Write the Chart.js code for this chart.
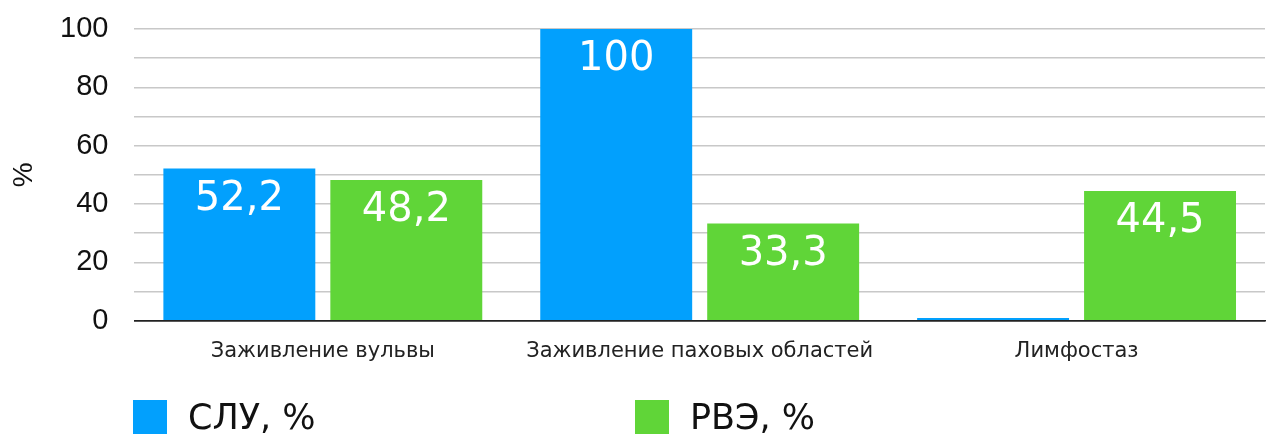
<!DOCTYPE html>
<html>
<head>
<meta charset="utf-8">
<script src="https://cdn.jsdelivr.net/npm/chart.js@4/dist/chart.umd.min.js"></script>
<style>
  html, body { margin: 0; padding: 0; background: #fff; }
  #wrap { position: relative; width: 1268px; height: 435px; }
  #legend { position: absolute; top: 400px; left: 0; width: 1268px; height: 34px;
            font-family: "DejaVu Sans", sans-serif; font-size: 35px; color: #111; }
  .item { position: absolute; top: 0; height: 34px; display: flex; align-items: center; }
  .box { width: 34px; height: 34px; margin-right: 21px; }
</style>
</head>
<body>
<div id="wrap">
  <canvas id="myChart" width="1268" height="435"></canvas>
  <div id="legend"></div>
</div>
<script>
// data
const categories = ["Заживление вульвы", "Заживление паховых областей", "Лимфостаз"];
const sluValues = [52.2, 100, 1];
const rveValues = [48.2, 33.3, 44.5];
const seriesNames = ["СЛУ, %", "РВЭ, %"];
const seriesColors = ["#02a0fd", "#60d538"];
const legendLeft = [133, 635];

const tickFont = '"Liberation Sans", Arial, sans-serif';
const textFont = '"DejaVu Sans", sans-serif';

// white value labels inside the bars, near the top
const barLabels = {
  id: "barLabels",
  afterDatasetsDraw(chart) {
    const ctx = chart.ctx;
    ctx.save();
    ctx.fillStyle = "#fff";
    ctx.font = "40px " + textFont;
    ctx.textAlign = "center";
    ctx.textBaseline = "middle";
    chart.data.datasets.forEach((ds, i) => {
      chart.getDatasetMeta(i).data.forEach((bar, j) => {
        const v = ds.data[j];
        if (v < 5) return;
        ctx.fillText(String(v).replace(".", ","), bar.x, bar.y + 31);
      });
    });
    ctx.restore();
  }
};

// rotated "%" at the far left
const yTitle = {
  id: "yTitle",
  afterDraw(chart) {
    const ctx = chart.ctx;
    const a = chart.chartArea;
    ctx.save();
    ctx.translate(24, (a.top + a.bottom) / 2);
    ctx.rotate(-Math.PI / 2);
    ctx.fillStyle = "#111";
    ctx.font = "28px " + tickFont;
    ctx.textAlign = "center";
    ctx.textBaseline = "middle";
    ctx.fillText("%", 0, 0);
    ctx.restore();
  }
};

var ctx = document.getElementById("myChart");
var myChart = new Chart(ctx, {
  type: "bar",
  data: {
    labels: categories,
    datasets: [
      { label: seriesNames[0], data: sluValues, backgroundColor: seriesColors[0] },
      { label: seriesNames[1], data: rveValues, backgroundColor: seriesColors[1] }
    ]
  },
  options: {
    responsive: false,
    animation: false,
    categoryPercentage: 0.886,
    barPercentage: 0.91,
    layout: { padding: { top: 12, right: 3, bottom: 61, left: 34 } },
    plugins: {
      legend: { display: false },
      tooltip: { enabled: false }
    },
    scales: {
      x: {
        grid: { display: false },
        border: { color: "#222", width: 1.5 },
        ticks: { color: "#222", font: { family: textFont, size: 21 }, padding: 10 }
      },
      y: {
        min: 0,
        max: 100,
        border: { display: false },
        grid: {
          color: (c) => c.tick && c.tick.value === 0 ? "#222" : "#c8c8c8",
          lineWidth: 1.5,
          drawTicks: false
        },
        ticks: {
          stepSize: 10,
          autoSkip: false,
          padding: 26,
          color: "#111",
          font: { family: tickFont, size: 29, lineHeight: 0.2 },
          callback: (v) => v % 20 === 0 ? v : ""
        }
      }
    }
  },
  plugins: [barLabels, yTitle]
});

// legend as plain html under the chart
var legendDiv = document.getElementById("legend");
seriesNames.forEach((name, i) => {
  var item = document.createElement("div");
  item.className = "item";
  item.style.left = legendLeft[i] + "px";
  item.innerHTML = '<div class="box" style="background:' + seriesColors[i] + '"></div><span>' + name + '</span>';
  legendDiv.appendChild(item);
});
</script>
</body>
</html>
